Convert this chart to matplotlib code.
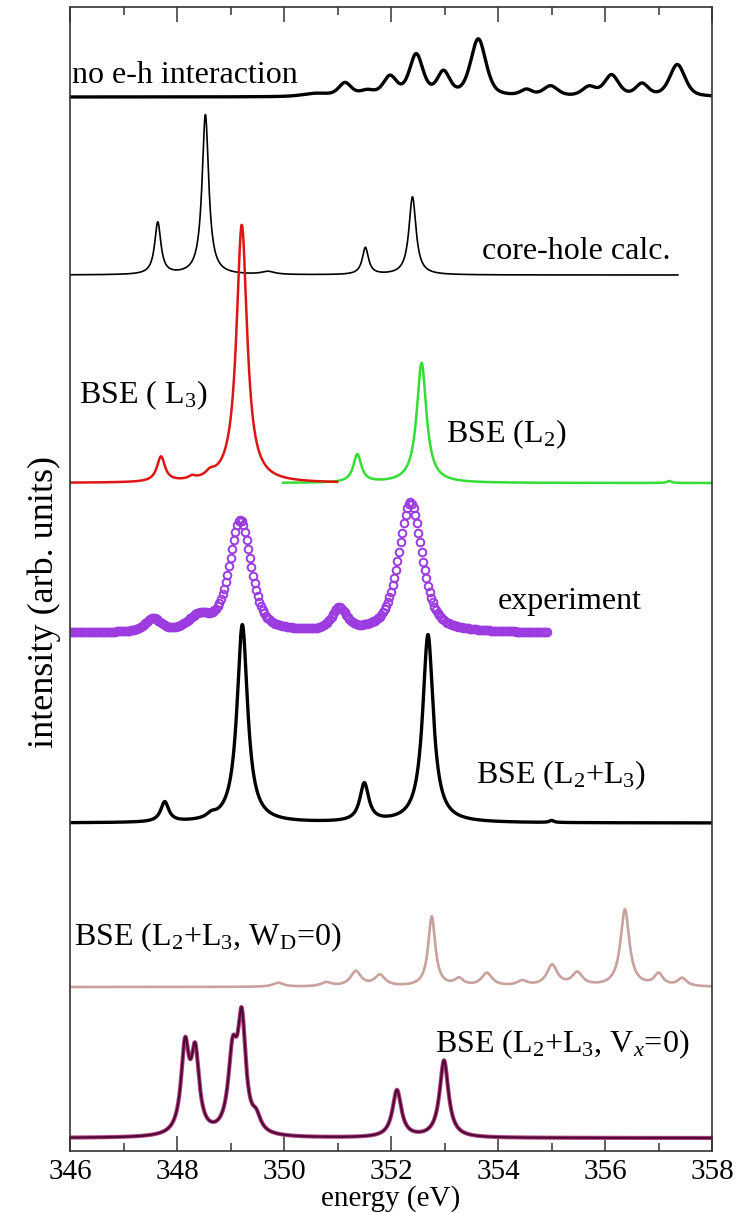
import numpy as np
import matplotlib
matplotlib.use("Agg")
import matplotlib.pyplot as plt

plt.rcParams['font.family'] = ['Liberation Serif', 'DejaVu Serif']
plt.rcParams['mathtext.fontset'] = 'custom'
plt.rcParams['mathtext.rm'] = 'Liberation Serif'
plt.rcParams['mathtext.it'] = 'Liberation Serif:italic'

# peak tables: centre (eV), amplitude (arb.), half width (eV)
noeh_pos = [350.6, 351.14, 351.55, 351.98, 352.47, 352.98, 353.63, 354.53, 354.98, 355.70, 356.12, 356.69, 357.35]
noeh_amp = [3, 13, 5, 19, 41, 23, 57, 6, 10, 9, 21, 12, 32]
noeh_wid = [0.3, 0.14, 0.16, 0.15, 0.15, 0.14, 0.17, 0.13, 0.16, 0.15, 0.16, 0.14, 0.17]

core_pos = [347.64, 348.53, 349.7, 351.52, 352.40]
core_amp = [52, 160, 3, 27, 78]
core_wid = [0.07, 0.075, 0.15, 0.07, 0.08]

l3_pos = [347.70, 348.28, 348.62, 349.21]
l3_amp = [25, 3, 5, 258]
l3_wid = [0.09, 0.08, 0.1, 0.12]

l2_pos = [351.37, 352.57, 357.2]
l2_amp = [28, 120, 2]
l2_wid = [0.09, 0.11, 0.05]

exp_pos = [347.55, 348.42, 349.18, 351.03, 352.36]
exp_amp = [13, 14, 112, 22, 130]
exp_wid = [0.17, 0.24, 0.24, 0.16, 0.26]

sum_pos = [347.77, 348.64, 349.22, 351.50, 352.69, 355.0]
sum_amp = [20, 4, 198, 38, 188, 2]
sum_wid = [0.09, 0.1, 0.12, 0.1, 0.12, 0.05]

wd0_pos = [349.89, 350.79, 351.34, 351.79, 352.76, 353.27, 353.79, 354.45, 355.01, 355.48, 356.37, 357.00, 357.44]
wd0_amp = [4, 4, 15, 11, 70, 7, 13, 5, 21, 13, 77, 12, 8]
wd0_wid = [0.12, 0.12, 0.12, 0.12, 0.08, 0.1, 0.12, 0.12, 0.12, 0.12, 0.1, 0.1, 0.1]

vx0_pos = [348.15, 348.34, 349.04, 349.21, 349.48, 352.11, 352.99]
vx0_amp = [85, 77, 75, 108, 14, 47, 77]
vx0_wid = [0.09, 0.09, 0.1, 0.09, 0.1, 0.1, 0.1]

# vertical offsets of the stacked spectra
offsets = {'noeh': 1054, 'core': 876, 'bse': 668, 'exp': 518, 'sum': 328, 'wd0': 164, 'vx0': 13}


def spectrum(e, pos, amp, wid, eta=1.0):
    y = np.zeros_like(e)
    for c, a, w in zip(pos, amp, wid):
        lor = w**2 / ((e - c)**2 + w**2)
        gau = np.exp(-np.log(2) * ((e - c) / w)**2)
        y += a * (eta * lor + (1 - eta) * gau)
    return y


fig = plt.figure(figsize=(7.53, 12.12), dpi=100)
ax = fig.add_axes([0.093, 0.0503, 0.8527, 0.9439])

e_full = np.linspace(346, 358, 2400)
e_core = np.linspace(346, 357.36, 2300)
e_l3 = np.linspace(346, 350.99, 1000)
e_l2 = np.linspace(349.98, 358, 1600)
e_exp = np.arange(346.0, 354.91, 0.03)

ax.plot(e_full, offsets['noeh'] + spectrum(e_full, noeh_pos, noeh_amp, noeh_wid, 0.5), color='black', lw=2.4)
ax.plot(e_core, offsets['core'] + spectrum(e_core, core_pos, core_amp, core_wid), color='black', lw=1.2)
ax.plot(e_l2, offsets['bse'] + spectrum(e_l2, l2_pos, l2_amp, l2_wid), color='#33dd33', lw=1.8)
ax.plot(e_l3, offsets['bse'] + spectrum(e_l3, l3_pos, l3_amp, l3_wid), color='#dd1515', lw=1.8)
ax.plot(e_exp, offsets['exp'] + spectrum(e_exp, exp_pos, exp_amp, exp_wid, 0.6), 'o', mfc='none',
        mec='#9b3be0', ms=5.5, mew=1.4)
ax.plot(e_full, offsets['sum'] + spectrum(e_full, sum_pos, sum_amp, sum_wid), color='black', lw=2.4)
ax.plot(e_full, offsets['wd0'] + spectrum(e_full, wd0_pos, wd0_amp, wd0_wid), color='#c9a19d', lw=1.9)
vx = offsets['vx0'] + spectrum(e_full, vx0_pos, vx0_amp, vx0_wid)
ax.plot(e_full, vx, color='#b5457f', lw=3.0)
ax.plot(e_full, vx, color='#4d0a3a', lw=1.6)

fs = 21
lfs = 23
ax.text(346.04, 1068, 'no e-h interaction', fontsize=lfs)
ax.text(353.70, 892, 'core-hole calc.', fontsize=lfs)
ax.text(346.17, 748, 'BSE ( L$_3$)', fontsize=lfs)
ax.text(353.03, 709, 'BSE (L$_2$)', fontsize=lfs)
ax.text(354.0, 542, 'experiment', fontsize=lfs)
ax.text(353.59, 368, 'BSE (L$_2$+L$_3$)', fontsize=lfs)
ax.text(346.08, 206, 'BSE (L$_2$+L$_3$, W$_\\mathrm{D}$=0)', fontsize=lfs)
ax.text(352.82, 99, 'BSE (L$_2$+L$_3$, V$_x$=0)', fontsize=lfs)

ax.set_xlim(346, 358)
ax.set_ylim(0, 1144)
ax.set_xticks(np.arange(346, 359, 2))
ax.set_xticks(np.arange(347, 358, 2), minor=True)
ax.set_yticks([])
ax.tick_params(axis='x', which='both', direction='in', top=True, labelsize=fs, width=1.1, color='#333333')
ax.tick_params(axis='x', which='major', length=11, pad=6)
ax.tick_params(axis='x', which='minor', length=6)
for s in ax.spines.values():
    s.set_color('#333333')
    s.set_linewidth(1.2)

ax.set_xlabel('energy (eV)', fontsize=fs, labelpad=0)
fig.text(44 / 753, 1 - 602 / 1212, 'intensity (arb. units)', fontsize=26, rotation=90,
         ha='center', va='center')

fig.savefig('out.png', dpi=100)
